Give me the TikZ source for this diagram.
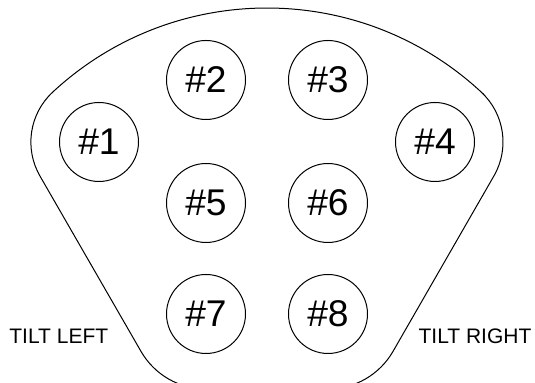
\documentclass[tikz,border=0pt]{standalone}
\usepackage{fontspec}
\setmainfont{Liberation Sans}
\usetikzlibrary{calc}
\tikzset{hole/.style = {draw, circle, minimum size=39.5pt, inner sep=0pt, font=\fontsize{18.6}{20}\selectfont}}
\tikzset{tilt/.style = {inner sep=0pt, font=\fontsize{10.5}{12}\selectfont}}

\begin{document}
\begin{tikzpicture}[x=0.5pt, y=0.5pt, line width=0.5pt]

\useasboundingbox (0,0) rectangle (535,383);
\clip (0,0) rectangle (535,383);

\foreach \n/\px/\py in {1/99/241, 2/206/303, 3/328/303, 4/435/241, 5/206/180, 6/328/180, 7/206/69, 8/328/69}
  \node[hole] (\n) at (\px,\py) {\#\n};

% outline of the plate
\coordinate (top) at (267,60);
\draw ($(top)+(47.1:315)$) arc[start angle=47.1, end angle=132.9, radius=315]
  arc[start angle=132.9, end angle=209.9, radius=68]
  -- ($(7.center)+(209.9:75)$) arc[start angle=209.9, end angle=270, radius=75]
  -- ($(8.center)+(270:75)$) arc[start angle=270, end angle=330.1, radius=75]
  -- ($(4.center)+(330.1:68)$) arc[start angle=330.1, end angle=407.1, radius=68]
  -- cycle;

\node[tilt] (left) at (58.8,46.7) {TILT LEFT};
\node[tilt] (right) at (475,46.7) {TILT RIGHT};

\end{tikzpicture}
\end{document}
